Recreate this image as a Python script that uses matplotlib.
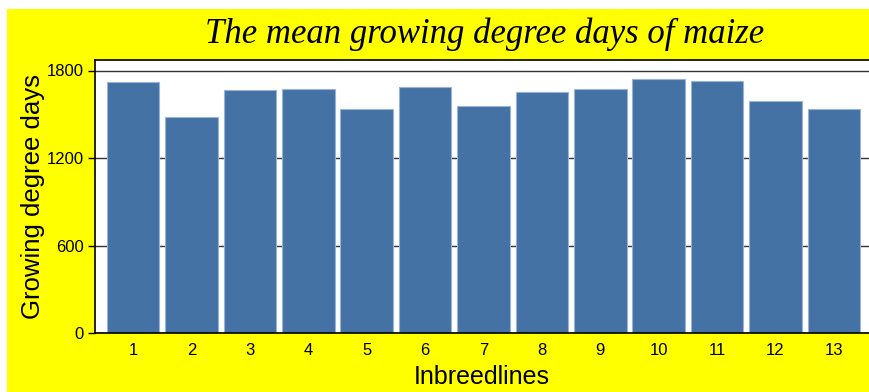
import matplotlib
matplotlib.use('Agg')
import matplotlib.pyplot as plt
from matplotlib.patches import Rectangle

# mean growing degree days per inbred line
lines = [1, 2, 3, 4, 5, 6, 7, 8, 9, 10, 11, 12, 13]
gdd = [1719, 1483, 1666, 1671, 1536, 1689, 1559, 1650, 1671, 1742, 1728, 1591, 1536]
yticks = [0, 600, 1200, 1800]

fig = plt.figure(figsize=(8.69, 3.92), dpi=100)
fig.patch.set_facecolor('white')
# yellow panel behind everything
fig.patches.append(Rectangle((7 / 869, 0), 1, (392 - 9) / 392, transform=fig.transFigure,
                             facecolor='#ffff00', edgecolor='none', zorder=-10))

ax = fig.add_axes([95 / 869, 59 / 392, 1 - 95 / 869, 273 / 392])
ax.set_facecolor('white')
ax.bar(lines, gdd, width=0.9, color='#4472a5', edgecolor='#9ab3d4', linewidth=0.8, zorder=2)

ax.set_xlim(0.35, 13.6)
ax.set_ylim(0, 1872)
ax.set_yticks(yticks)
ax.set_xticks(lines)
ax.yaxis.grid(True, color='#333333', linewidth=1.0, zorder=1)
ax.set_axisbelow(True)

for s in ['left', 'bottom', 'top']:
    ax.spines[s].set_color('black')
    ax.spines[s].set_linewidth(1.2)
ax.spines['right'].set_visible(False)

ax.tick_params(axis='y', length=5, width=1, labelsize=12, pad=3)
ax.tick_params(axis='x', length=0, labelsize=12, pad=7)
for lbl in ax.get_xticklabels() + ax.get_yticklabels():
    lbl.set_family('Liberation Sans')

ax.set_ylabel('Growing degree days', fontsize=18.5, family='Liberation Sans', labelpad=1)
ax.set_xlabel('Inbreedlines', fontsize=18, family='Liberation Sans', labelpad=5)

fig.text(485 / 869, 1 - 34 / 392, 'The mean growing degree days of maize', fontsize=25,
         family='Liberation Serif', style='italic', ha='center', va='center')

fig.savefig('out.png', dpi=100, facecolor=fig.get_facecolor())
